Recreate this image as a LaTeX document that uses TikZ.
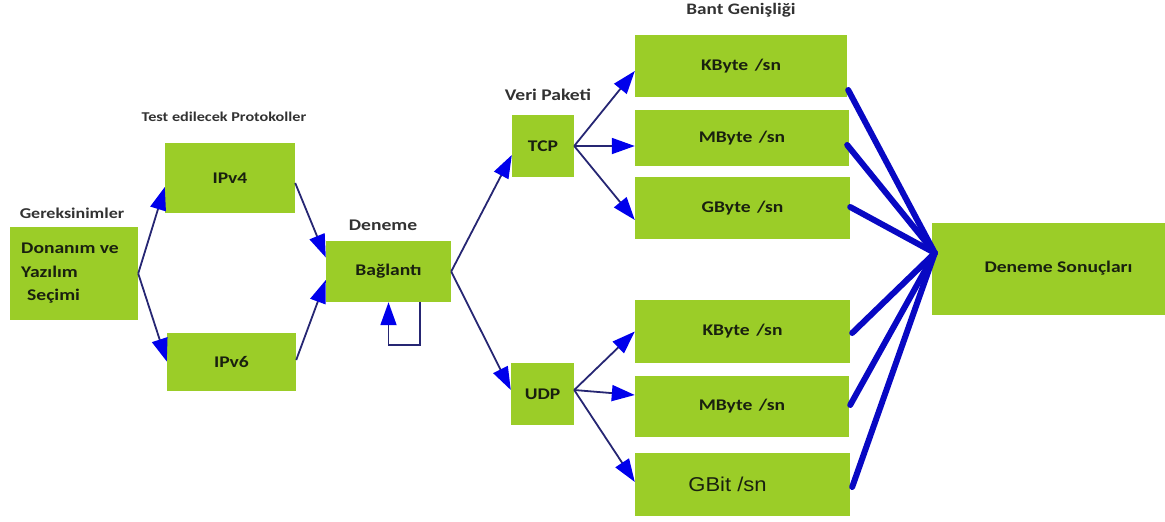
\documentclass[tikz,border=0pt]{standalone}
\usepackage{fontspec}
\setmainfont{Carlito}[FakeStretch=1.2]
\newfontfamily\arialf{Liberation Sans}[FakeStretch=1.1]
\usetikzlibrary{arrows.meta}
\definecolor{boxgreen}{RGB}{155,205,40}
\definecolor{txtdark}{RGB}{25,32,15}
\definecolor{lbl}{RGB}{50,50,50}
\definecolor{navy}{RGB}{38,38,115}
\definecolor{tipblue}{RGB}{0,0,235}
\definecolor{thickblue}{RGB}{8,8,195}
\tikzset{
  gbox/.style={fill=boxgreen, draw=none, inner sep=0pt, text=txtdark, font=\fontsize{16.3}{19}\selectfont\bfseries},
  lab/.style={inner sep=0pt, text=lbl, font=\fontsize{16.3}{18}\selectfont\bfseries},
  arr/.style={draw=navy, line width=1.8pt, -{Triangle[length=23pt,width=16pt,color=tipblue,fill=tipblue]}},
  thickline/.style={draw=thickblue, line width=6pt, line cap=round},
}
\begin{document}
\begin{tikzpicture}[x=1pt,y=-1pt]
\useasboundingbox (0,0) rectangle (1165,522);
% boxes
\node[gbox, minimum width=128pt, minimum height=93pt] (req) at (74,273.5) {};
\node[inner sep=0pt, anchor=north west, align=left, text=txtdark, font=\fontsize{16.3}{23.5}\selectfont\bfseries] (reqt) at (21,243) {Donanım ve\\Yazılım\\\hspace{6pt}Seçimi};
\node[gbox, minimum width=130pt, minimum height=70pt] (ipv4) at (230,178) {IPv4};
\node[gbox, minimum width=129pt, minimum height=58pt] (ipv6) at (231.5,361.5) {IPv6};
\node[gbox, minimum width=125pt, minimum height=61pt] (bag) at (388.5,271.5) {Bağlantı};
\node[gbox, minimum width=62pt, minimum height=62pt] (tcp) at (543,146) {TCP};
\node[gbox, minimum width=63pt, minimum height=62pt] (udp) at (542.5,394) {UDP};
\node[gbox, minimum width=212pt, minimum height=62pt] (k1) at (741,66) {KByte\hspace{0.4em}/sn};
\node[gbox, minimum width=214pt, minimum height=56pt] (m1) at (742,138) {MByte\hspace{0.4em}/sn};
\node[gbox, minimum width=215pt, minimum height=62pt] (g1) at (742.5,208) {GByte\hspace{0.4em}/sn};
\node[gbox, minimum width=215pt, minimum height=63pt] (k2) at (742.5,331.5) {KByte\hspace{0.4em}/sn};
\node[gbox, minimum width=214pt, minimum height=61pt] (m2) at (742,406.5) {MByte\hspace{0.4em}/sn};
\node[gbox, minimum width=215pt, minimum height=63pt, font=\arialf\fontsize{20}{23}\selectfont, text depth=0pt] (gb) at (742.5,484.5) {\hspace{-30pt}GBit /sn};
\node[gbox, minimum width=233pt, minimum height=92pt] (res) at (1048.5,269) {\raisebox{4pt}{\hspace{20pt}Deneme Sonuçları}};
% labels
\node[lab, font=\fontsize{15}{17}\selectfont\bfseries] (lreq) at (72,213) {Gereksinimler};
\node[lab, font=\fontsize{13.5}{15}\selectfont\bfseries] (lprot) at (224,117) {Test edilecek Protokoller};
\node[lab] (lden) at (383,225) {Deneme};
\node[lab] (lveri) at (548,95) {Veri Paketi};
\node[lab, font=\fontsize{16}{18}\selectfont\bfseries] (lbant) at (741,10) {Bant Genişliği};
% arrows
\draw[arr] (req.east) -- ([yshift=-9pt]ipv4.west);
\draw[arr] (req.east) -- (ipv6.west);
\draw[arr] ([yshift=-5pt]ipv4.east) -- ([yshift=14pt]bag.west);
\draw[arr] ([yshift=1.5pt]ipv6.east) -- ([yshift=-8.5pt]bag.west);
\draw[arr] (bag.east) -- ([yshift=-9pt]tcp.west);
\draw[arr] (bag.east) -- ([yshift=4pt]udp.west);
\draw[arr] ([xshift=31.5pt]bag.south) -- ++(0,43) -| (bag.south);
\draw[arr] (tcp.east) -- ([yshift=-5pt]k1.west);
\draw[arr] (tcp.east) -- ([yshift=-8pt]m1.west);
\draw[arr] (tcp.east) -- ([yshift=-12pt]g1.west);
\draw[arr] ([yshift=4pt]udp.east) -- (k2.west);
\draw[arr] ([yshift=4pt]udp.east) -- ([yshift=11.5pt]m2.west);
\draw[arr] ([yshift=4pt]udp.east) -- ([yshift=2.5pt]gb.west);
% thick lines
\coordinate (conv) at ([xshift=3pt,yshift=16pt]res.west);
\draw[thickline] ([xshift=1pt,yshift=-24pt]k1.east) -- (conv);
\draw[thickline] ([xshift=-2pt,yshift=-7pt]m1.east) -- (conv);
\draw[thickline] ([yshift=1pt]g1.east) -- (conv);
\draw[thickline] ([xshift=2pt,yshift=-1.5pt]k2.east) -- (conv);
\draw[thickline] ([xshift=1pt,yshift=1.5pt]m2.east) -- (conv);
\draw[thickline] ([xshift=2pt,yshift=-2.5pt]gb.east) -- (conv);
\end{tikzpicture}
\end{document}
